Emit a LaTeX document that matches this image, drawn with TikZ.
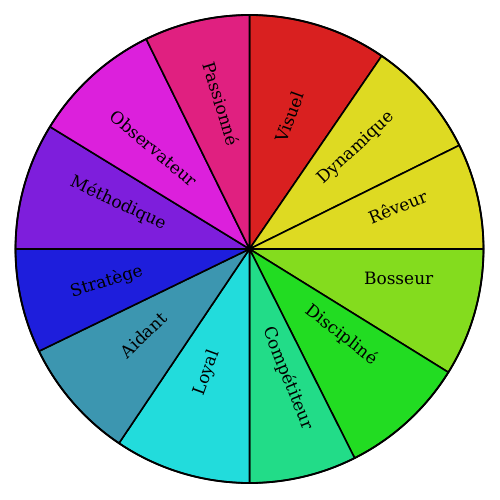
\documentclass[tikz,border=0pt]{standalone}
\usepackage{fontspec}
\setmainfont{DejaVu Serif}
\usetikzlibrary{calc}
\definecolor{cVis}{RGB}{217,32,32}
\definecolor{cDyn}{RGB}{222,218,34}
\definecolor{cRev}{RGB}{222,218,34}
\definecolor{cBos}{RGB}{132,220,30}
\definecolor{cDis}{RGB}{34,220,34}
\definecolor{cCom}{RGB}{34,220,136}
\definecolor{cLoy}{RGB}{34,220,220}
\definecolor{cAid}{RGB}{60,150,176}
\definecolor{cStr}{RGB}{30,30,220}
\definecolor{cMet}{RGB}{126,30,220}
\definecolor{cObs}{RGB}{220,32,220}
\definecolor{cPas}{RGB}{224,32,128}
\begin{document}
\begin{tikzpicture}[x=0.5pt,y=0.5pt,
  sector/.style={draw=black,line width=0.8pt,line join=round},
  lab/.style={font=\fontsize{8.5}{10}\selectfont,text=black,inner sep=0pt}]
\useasboundingbox (0,0) rectangle (500,500);
\coordinate (c) at (249.5,251);
\def\R{234}
\foreach \a/\b/\col in {90/55.6/cVis,55.6/26.3/cDyn,26.3/0/cRev,0/-31.8/cBos,-31.8/-63.3/cDis,-63.3/-90/cCom,270/236.1/cLoy,236.1/205.9/cAid,205.9/180/cStr,180/148.5/cMet,148.5/116.2/cObs,116.2/90/cPas}{
  \filldraw[sector,fill=\col] (c) -- ++(\a:\R) arc[start angle=\a,end angle=\b,radius=\R] -- cycle;
}
\draw[line width=0.9pt] (c) circle[radius=\R];
\node[lab,rotate=70] (visuel) at ($(c)+(73:138)$) {Visuel};
\node[lab,rotate=43] (dynamique) at ($(c)+(43.3:147)$) {Dynamique};
\node[lab,rotate=22] (reveur) at ($(c)+(15.9:154)$) {Rêveur};
\node[lab,rotate=0] (bosseur) at ($(c)+(-11:152)$) {Bosseur};
\node[lab,rotate=-38] (discipline) at ($(c)+(-43:126)$) {Discipliné};
\node[lab,rotate=-68] (competiteur) at ($(c)+(-73.4:135)$) {Compétiteur};
\node[lab,rotate=70] (loyal) at ($(c)+(251:131)$) {Loyal};
\node[lab,rotate=44] (aidant) at ($(c)+(219:136.6)$) {Aidant};
\node[lab,rotate=17] (stratege) at ($(c)+(192.9:146.5)$) {Stratège};
\node[lab,rotate=-25] (methodique) at ($(c)+(160.8:139)$) {Méthodique};
\node[lab,rotate=-40] (observateur) at ($(c)+(133.6:139)$) {Observateur};
\node[lab,rotate=-73] (passionne) at ($(c)+(100.9:148)$) {Passionné};
\end{tikzpicture}
\end{document}
